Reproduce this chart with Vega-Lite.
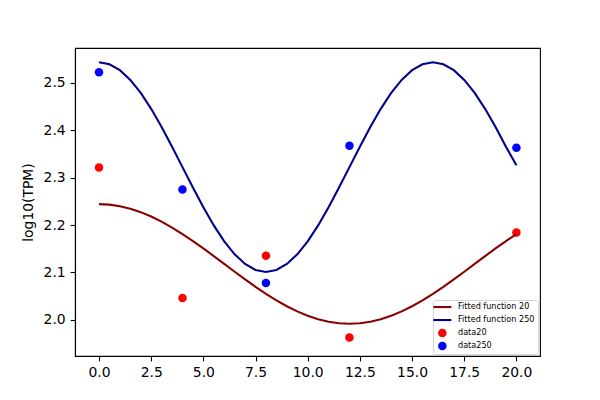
{
  "$schema": "https://vega.github.io/schema/vega-lite/v6.json",
  "width": 465,
  "height": 308,
  "autosize": {"type": "none"},
  "padding": {"left": 75, "top": 48, "right": 60, "bottom": 44},
  "background": "white",
  "config": {
    "view": {"stroke": "black", "strokeWidth": 1.1},
    "font": "DejaVu Sans",
    "axis": {
      "grid": false,
      "domainColor": "black",
      "domainWidth": 1.1,
      "tickColor": "black",
      "tickWidth": 1.1,
      "tickSize": 4.9,
      "labelPadding": 4.9,
      "labelFont": "DejaVu Sans",
      "labelFontSize": 13.9,
      "labelColor": "black",
      "titleFont": "DejaVu Sans",
      "titleFontSize": 13.9,
      "titleFontWeight": "normal",
      "titleColor": "black"
    }
  },
  "datasets": {
    "points": [
      {"x": 0, "y": 2.321, "series": "data20"},
      {"x": 4, "y": 2.046, "series": "data20"},
      {"x": 8, "y": 2.135, "series": "data20"},
      {"x": 12, "y": 1.963, "series": "data20"},
      {"x": 20, "y": 2.184, "series": "data20"},
      {"x": 0, "y": 2.522, "series": "data250"},
      {"x": 4, "y": 2.275, "series": "data250"},
      {"x": 8, "y": 2.078, "series": "data250"},
      {"x": 12, "y": 2.367, "series": "data250"},
      {"x": 20, "y": 2.363, "series": "data250"}
    ],
    "curves": [
      {"x": 0, "y": 2.244, "series": "Fitted function 20"},
      {"x": 0.5, "y": 2.2429, "series": "Fitted function 20"},
      {"x": 1, "y": 2.2397, "series": "Fitted function 20"},
      {"x": 1.5, "y": 2.2344, "series": "Fitted function 20"},
      {"x": 2, "y": 2.2271, "series": "Fitted function 20"},
      {"x": 2.5, "y": 2.218, "series": "Fitted function 20"},
      {"x": 3, "y": 2.2071, "series": "Fitted function 20"},
      {"x": 3.5, "y": 2.1947, "series": "Fitted function 20"},
      {"x": 4, "y": 2.181, "series": "Fitted function 20"},
      {"x": 4.5, "y": 2.1662, "series": "Fitted function 20"},
      {"x": 5, "y": 2.1506, "series": "Fitted function 20"},
      {"x": 5.5, "y": 2.1345, "series": "Fitted function 20"},
      {"x": 6, "y": 2.118, "series": "Fitted function 20"},
      {"x": 6.5, "y": 2.1015, "series": "Fitted function 20"},
      {"x": 7, "y": 2.0854, "series": "Fitted function 20"},
      {"x": 7.5, "y": 2.0698, "series": "Fitted function 20"},
      {"x": 8, "y": 2.055, "series": "Fitted function 20"},
      {"x": 8.5, "y": 2.0413, "series": "Fitted function 20"},
      {"x": 9, "y": 2.0289, "series": "Fitted function 20"},
      {"x": 9.5, "y": 2.018, "series": "Fitted function 20"},
      {"x": 10, "y": 2.0089, "series": "Fitted function 20"},
      {"x": 10.5, "y": 2.0016, "series": "Fitted function 20"},
      {"x": 11, "y": 1.9963, "series": "Fitted function 20"},
      {"x": 11.5, "y": 1.9931, "series": "Fitted function 20"},
      {"x": 12, "y": 1.992, "series": "Fitted function 20"},
      {"x": 12.5, "y": 1.9931, "series": "Fitted function 20"},
      {"x": 13, "y": 1.9963, "series": "Fitted function 20"},
      {"x": 13.5, "y": 2.0016, "series": "Fitted function 20"},
      {"x": 14, "y": 2.0089, "series": "Fitted function 20"},
      {"x": 14.5, "y": 2.018, "series": "Fitted function 20"},
      {"x": 15, "y": 2.0289, "series": "Fitted function 20"},
      {"x": 15.5, "y": 2.0413, "series": "Fitted function 20"},
      {"x": 16, "y": 2.055, "series": "Fitted function 20"},
      {"x": 16.5, "y": 2.0698, "series": "Fitted function 20"},
      {"x": 17, "y": 2.0854, "series": "Fitted function 20"},
      {"x": 17.5, "y": 2.1015, "series": "Fitted function 20"},
      {"x": 18, "y": 2.118, "series": "Fitted function 20"},
      {"x": 18.5, "y": 2.1345, "series": "Fitted function 20"},
      {"x": 19, "y": 2.1506, "series": "Fitted function 20"},
      {"x": 19.5, "y": 2.1662, "series": "Fitted function 20"},
      {"x": 20, "y": 2.181, "series": "Fitted function 20"},
      {"x": 0, "y": 2.543, "series": "Fitted function 250"},
      {"x": 0.5, "y": 2.5388, "series": "Fitted function 250"},
      {"x": 1, "y": 2.5262, "series": "Fitted function 250"},
      {"x": 1.5, "y": 2.5058, "series": "Fitted function 250"},
      {"x": 2, "y": 2.4783, "series": "Fitted function 250"},
      {"x": 2.5, "y": 2.4448, "series": "Fitted function 250"},
      {"x": 3, "y": 2.4066, "series": "Fitted function 250"},
      {"x": 3.5, "y": 2.3651, "series": "Fitted function 250"},
      {"x": 4, "y": 2.322, "series": "Fitted function 250"},
      {"x": 4.5, "y": 2.2789, "series": "Fitted function 250"},
      {"x": 5, "y": 2.2374, "series": "Fitted function 250"},
      {"x": 5.5, "y": 2.1992, "series": "Fitted function 250"},
      {"x": 6, "y": 2.1657, "series": "Fitted function 250"},
      {"x": 6.5, "y": 2.1383, "series": "Fitted function 250"},
      {"x": 7, "y": 2.1178, "series": "Fitted function 250"},
      {"x": 7.5, "y": 2.1052, "series": "Fitted function 250"},
      {"x": 8, "y": 2.101, "series": "Fitted function 250"},
      {"x": 8.5, "y": 2.1052, "series": "Fitted function 250"},
      {"x": 9, "y": 2.1178, "series": "Fitted function 250"},
      {"x": 9.5, "y": 2.1383, "series": "Fitted function 250"},
      {"x": 10, "y": 2.1657, "series": "Fitted function 250"},
      {"x": 10.5, "y": 2.1992, "series": "Fitted function 250"},
      {"x": 11, "y": 2.2374, "series": "Fitted function 250"},
      {"x": 11.5, "y": 2.2789, "series": "Fitted function 250"},
      {"x": 12, "y": 2.322, "series": "Fitted function 250"},
      {"x": 12.5, "y": 2.3651, "series": "Fitted function 250"},
      {"x": 13, "y": 2.4066, "series": "Fitted function 250"},
      {"x": 13.5, "y": 2.4448, "series": "Fitted function 250"},
      {"x": 14, "y": 2.4783, "series": "Fitted function 250"},
      {"x": 14.5, "y": 2.5058, "series": "Fitted function 250"},
      {"x": 15, "y": 2.5262, "series": "Fitted function 250"},
      {"x": 15.5, "y": 2.5388, "series": "Fitted function 250"},
      {"x": 16, "y": 2.543, "series": "Fitted function 250"},
      {"x": 16.5, "y": 2.5388, "series": "Fitted function 250"},
      {"x": 17, "y": 2.5262, "series": "Fitted function 250"},
      {"x": 17.5, "y": 2.5058, "series": "Fitted function 250"},
      {"x": 18, "y": 2.4783, "series": "Fitted function 250"},
      {"x": 18.5, "y": 2.4448, "series": "Fitted function 250"},
      {"x": 19, "y": 2.4066, "series": "Fitted function 250"},
      {"x": 19.5, "y": 2.3651, "series": "Fitted function 250"},
      {"x": 20, "y": 2.326, "series": "Fitted function 250"}
    ]
  },
  "encoding": {
    "x": {
      "field": "x",
      "type": "quantitative",
      "scale": {"domain": [-1.15, 21.13], "nice": false, "zero": false},
      "axis": {"title": null, "values": [0, 2.5, 5, 7.5, 10, 12.5, 15, 17.5, 20], "format": ".1f"}
    },
    "y": {
      "field": "y",
      "type": "quantitative",
      "scale": {"domain": [1.924, 2.573], "nice": false, "zero": false},
      "axis": {"title": "log10(TPM)", "values": [2.0, 2.1, 2.2, 2.3, 2.4, 2.5], "format": ".1f", "titlePadding": 8}
    },
    "color": {
      "field": "series",
      "type": "nominal",
      "scale": {
        "domain": ["Fitted function 20", "Fitted function 250", "data20", "data250"],
        "range": ["#8b0000", "#00008b", "#ff0000", "#0000ff"]
      },
      "legend": {
        "title": null,
        "orient": "bottom-right",
        "offset": 2,
        "fillColor": "white",
        "strokeColor": "#d5d5d5",
        "cornerRadius": 2,
        "padding": 3,
        "labelFont": "DejaVu Sans",
        "labelFontSize": 8.1,
        "labelColor": "black",
        "labelOffset": 11.6,
        "symbolOffset": 2.3,
        "rowPadding": 3,
        "encode": {
          "symbols": {
            "update": {
              "shape": {"signal": "datum.value == 'data20' || datum.value == 'data250' ? 'circle' : 'M-2.25,0L2.25,0'"},
              "fill": {"signal": "datum.value == 'data20' ? '#ff0000' : datum.value == 'data250' ? '#0000ff' : 'transparent'"},
              "stroke": {"signal": "datum.value == 'Fitted function 20' ? '#8b0000' : datum.value == 'Fitted function 250' ? '#00008b' : 'transparent'"},
              "strokeWidth": {"signal": "datum.value == 'data20' || datum.value == 'data250' ? 0 : 2.1"},
              "size": {"signal": "datum.value == 'data20' || datum.value == 'data250' ? 74 : 64"},
              "opacity": {"value": 1}
            }
          }
        }
      }
    }
  },
  "layer": [
    {
      "data": {"name": "points"},
      "mark": {"type": "point", "filled": true, "size": 72, "opacity": 1}
    },
    {
      "data": {"name": "curves"},
      "mark": {"type": "line", "strokeWidth": 2.08}
    }
  ]
}
